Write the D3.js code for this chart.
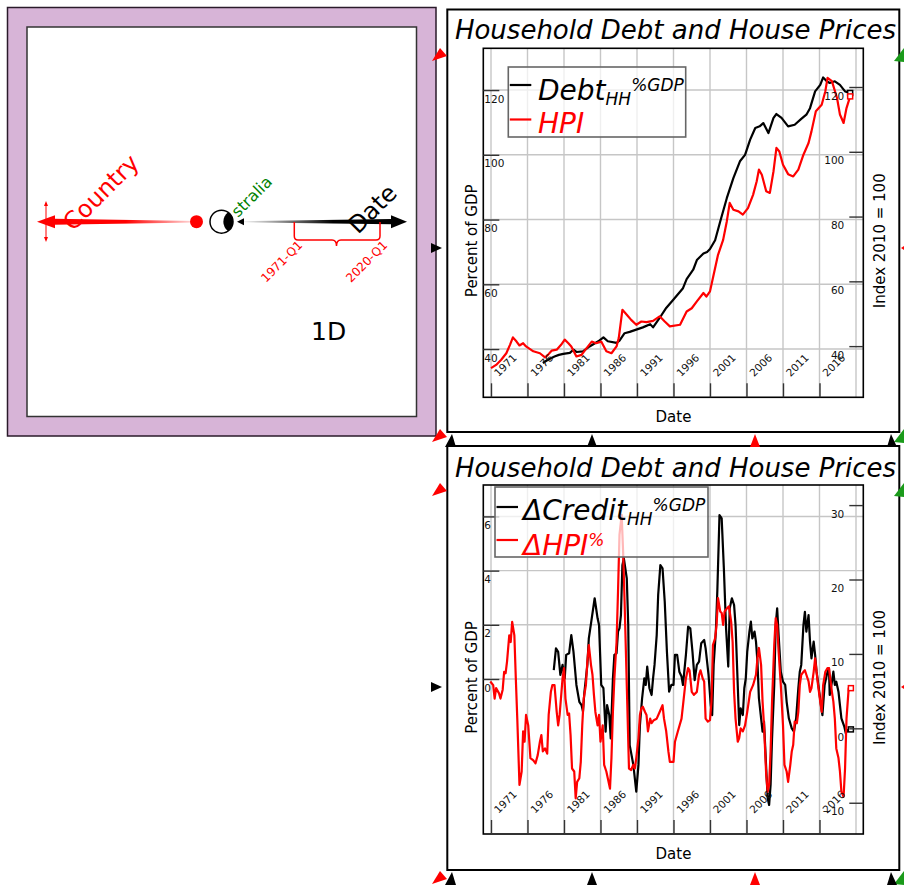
<!DOCTYPE html>
<html><head><meta charset="utf-8">
<script src="https://cdn.jsdelivr.net/npm/d3@7"></script>
<style>
body{margin:0;background:#fff}
svg text{font-family:"DejaVu Sans",Verdana,sans-serif}
</style>
</head><body>
<svg id="c" width="904" height="885"></svg>
<script>
// ---------------- DATA ----------------
const xTicks = [1971,1976,1981,1986,1991,1996,2001,2006,2011,2016];
const xGridExtra = [2021];
const topLeftTicks = [40,60,80,100,120];
const topRightTicks = [40,60,80,100,120];
const botLeftTicks = [0,2,4,6];
const botRightTicks = [-10,0,10,20,30];

const chartTitle = "Household Debt and House Prices";

// Household debt, % of GDP  [year, value]
const debtHH = [[1978.1,35.7],[1978.8,36.7],[1979.7,37.7],[1980.3,38.2],[1980.9,38.5],[1981.8,38.8],[1982.3,39.8],[1982.7,39.1],[1983.6,39.3],[1984.5,40.8],[1985.7,42.4],[1986.4,43.6],[1987.0,42.4],[1988.2,41.9],[1988.6,42.6],[1989.3,44.9],[1990.0,45.3],[1990.9,46.0],[1991.8,46.7],[1992.8,47.7],[1993.2,46.7],[1994.1,49.6],[1995.0,52.7],[1996.0,55.3],[1997.3,58.8],[1997.8,61.6],[1998.7,64.5],[1999.2,67.5],[2000.1,69.5],[2000.6,70.0],[2001.0,70.9],[2001.7,73.6],[2002.4,79.4],[2003.3,86.6],[2004.2,92.8],[2005.1,98.0],[2005.8,100.0],[2006.5,104.7],[2007.2,108.3],[2007.8,108.8],[2008.3,109.8],[2009.0,106.7],[2009.7,111.4],[2010.1,112.6],[2010.8,111.4],[2011.7,108.8],[2012.6,109.3],[2013.5,111.1],[2014.2,112.4],[2014.7,114.4],[2015.4,119.6],[2016.1,121.6],[2016.5,123.9],[2017.0,122.7],[2017.4,122.2],[2018.1,122.7],[2018.8,121.6],[2019.5,119.6],[2020.2,119.1]];

// House price index, 2010 = 100
const hpi = [[1971.0,33.2],[1971.7,34.2],[1972.4,35.8],[1973.1,37.8],[1973.6,40.4],[1974.0,42.7],[1974.5,41.4],[1974.9,40.2],[1975.4,40.9],[1975.8,39.9],[1976.8,38.4],[1977.7,37.8],[1978.4,36.5],[1978.8,37.3],[1979.3,38.6],[1980.0,38.9],[1980.6,40.4],[1981.1,42.0],[1981.6,40.9],[1982.0,39.9],[1982.7,36.8],[1983.4,37.3],[1984.1,39.4],[1984.8,41.4],[1985.4,40.9],[1986.1,41.4],[1986.8,38.4],[1987.5,37.8],[1988.2,39.9],[1988.5,42.5],[1989.0,51.2],[1989.6,49.7],[1990.2,48.1],[1990.9,46.6],[1991.6,47.6],[1992.3,47.4],[1993.2,47.8],[1994.1,49.2],[1994.8,47.6],[1995.5,46.1],[1996.9,46.6],[1997.8,50.7],[1998.5,51.7],[1999.2,53.8],[2000.1,56.4],[2000.5,55.3],[2001.0,56.9],[2001.4,61.0],[2002.1,68.2],[2002.8,72.8],[2003.3,78.5],[2003.7,84.2],[2004.2,82.1],[2004.9,81.6],[2005.5,80.6],[2006.2,82.6],[2006.9,86.7],[2007.4,90.9],[2007.7,94.5],[2008.1,92.9],[2008.7,87.8],[2009.2,87.3],[2009.7,94.0],[2010.1,101.2],[2010.5,100.1],[2011.0,96.0],[2011.7,93.1],[2012.4,92.4],[2013.1,94.5],[2013.8,99.1],[2014.5,102.7],[2014.9,106.3],[2015.5,112.5],[2016.3,114.5],[2016.8,118.7],[2017.1,122.8],[2017.7,121.8],[2018.4,116.6],[2018.8,111.5],[2019.3,108.9],[2019.7,113.5],[2020.2,117.1]];

// Change in household credit, % of GDP
const dCredit = [[1979.6,0.33],[1979.9,1.13],[1980.2,1.0],[1980.5,0.15],[1980.8,0.52],[1981.1,0.02],[1981.3,0.89],[1981.7,0.95],[1982.0,1.62],[1982.3,1.0],[1982.7,-0.22],[1983.1,-0.84],[1983.4,-0.96],[1983.6,-1.2],[1983.8,-0.47],[1984.2,0.52],[1984.4,1.5],[1984.8,2.24],[1985.2,2.98],[1985.6,2.24],[1985.8,1.99],[1986.1,-0.22],[1986.4,-0.34],[1986.7,-1.94],[1986.9,-0.96],[1987.2,-1.33],[1987.4,-2.19],[1987.7,0.02],[1987.9,0.89],[1988.2,0.95],[1988.4,1.75],[1988.6,1.87],[1988.8,2.36],[1989.0,4.2],[1989.2,4.45],[1989.6,3.71],[1989.8,1.99],[1990.0,-2.44],[1990.5,-3.17],[1990.9,-4.16],[1991.2,-3.17],[1991.4,-1.7],[1991.7,-0.71],[1992.0,0.02],[1992.2,-0.22],[1992.4,0.46],[1992.7,-0.34],[1993.0,-0.59],[1993.2,0.02],[1993.4,0.52],[1993.7,1.62],[1993.9,3.1],[1994.2,4.2],[1994.5,4.08],[1994.8,2.85],[1995.1,1.0],[1995.4,-0.47],[1995.7,-0.22],[1996.0,-0.22],[1996.2,0.89],[1996.5,0.89],[1996.8,0.27],[1997.1,0.09],[1997.3,-0.22],[1997.7,0.89],[1998.0,1.93],[1998.3,1.87],[1998.6,1.0],[1998.9,-0.04],[1999.2,0.52],[1999.5,0.64],[1999.8,1.32],[2000.2,1.44],[2000.4,1.13],[2000.8,0.15],[2001.1,-0.96],[2001.3,-1.33],[2001.5,0.52],[2001.8,1.75],[2002.0,3.22],[2002.3,6.05],[2002.6,5.93],[2002.9,4.08],[2003.2,1.87],[2003.5,0.46],[2003.7,2.61],[2004.0,2.98],[2004.3,2.73],[2004.5,1.99],[2004.8,-0.22],[2005.0,-1.7],[2005.2,-1.08],[2005.5,-1.33],[2005.7,-0.34],[2005.9,0.02],[2006.1,1.0],[2006.4,1.75],[2006.6,2.12],[2006.8,1.5],[2007.1,1.75],[2007.3,1.38],[2007.5,0.64],[2007.7,-0.71],[2008.0,-1.45],[2008.2,-1.94],[2008.4,-1.57],[2008.7,-3.3],[2008.9,-4.4],[2009.1,-4.65],[2009.3,-3.91],[2009.5,-2.19],[2009.8,-0.22],[2010.0,1.99],[2010.2,2.61],[2010.4,1.62],[2010.7,0.27],[2011.0,-0.1],[2011.3,-0.22],[2011.5,-0.84],[2011.8,-1.45],[2012.2,-1.82],[2012.5,-1.94],[2012.8,-1.45],[2013.1,-0.34],[2013.3,0.27],[2013.5,0.52],[2013.8,1.99],[2014.0,2.48],[2014.2,1.75],[2014.5,2.36],[2014.7,1.38],[2014.9,0.76],[2015.2,1.38],[2015.4,0.89],[2015.6,0.27],[2015.9,-0.34],[2016.2,-0.96],[2016.4,-1.33],[2016.7,-0.22],[2017.1,0.27],[2017.3,0.39],[2017.4,-0.59],[2017.7,-0.1],[2017.9,0.27],[2018.1,-0.22],[2018.3,-0.1],[2018.6,-0.47],[2018.8,-0.96],[2019.0,-1.45],[2019.4,-1.76],[2019.6,-2.0],[2019.9,-1.88],[2020.3,-1.86]];

// Change in house price index, %
const dHPI = [[1970.9,6.3],[1971.3,5.8],[1971.5,4.0],[1971.7,5.4],[1972.1,4.7],[1972.3,4.0],[1972.6,5.2],[1972.8,7.6],[1973.0,7.4],[1973.2,9.0],[1973.5,12.5],[1973.7,11.6],[1973.9,14.3],[1974.2,12.5],[1974.4,6.7],[1974.6,1.3],[1974.9,-7.6],[1975.2,-5.8],[1975.4,-0.4],[1975.6,-1.8],[1975.8,1.8],[1976.1,0.4],[1976.4,-4.0],[1976.8,-4.3],[1977.1,-4.7],[1977.4,-3.6],[1977.7,-1.8],[1977.9,-0.9],[1978.1,-3.1],[1978.4,-2.7],[1978.7,-3.4],[1978.9,1.8],[1979.2,4.9],[1979.4,5.8],[1979.7,5.8],[1980.0,2.2],[1980.2,0.4],[1980.4,1.8],[1980.8,6.7],[1981.0,8.1],[1981.2,4.0],[1981.5,1.8],[1981.7,2.0],[1981.9,-0.9],[1982.1,-5.4],[1982.4,-5.8],[1982.6,-9.4],[1982.8,-7.2],[1983.1,-6.7],[1983.3,-4.5],[1983.5,0.4],[1983.7,4.0],[1984.0,5.8],[1984.2,9.0],[1984.4,11.2],[1984.7,8.5],[1984.9,7.2],[1985.1,4.5],[1985.3,2.2],[1985.6,0.4],[1985.8,1.8],[1986.0,-1.8],[1986.3,0.4],[1986.5,-4.9],[1986.8,-5.8],[1987.0,-6.7],[1987.3,-8.1],[1987.5,-4.0],[1987.7,2.2],[1987.9,6.7],[1988.2,11.6],[1988.4,18.4],[1988.6,26.0],[1988.9,28.7],[1989.1,23.7],[1989.3,17.0],[1989.6,5.8],[1989.9,-5.4],[1990.2,-5.6],[1990.5,-4.9],[1990.7,-5.4],[1990.9,-4.0],[1991.2,-1.3],[1991.4,1.8],[1991.6,2.7],[1991.8,2.9],[1992.1,2.2],[1992.3,1.8],[1992.5,-0.4],[1992.8,1.3],[1993.0,0.7],[1993.3,1.1],[1993.7,1.3],[1994.1,2.2],[1994.5,3.1],[1994.7,1.3],[1995.0,-0.4],[1995.3,-3.1],[1995.5,-4.5],[1996.0,-4.5],[1996.2,-1.8],[1996.6,-0.4],[1997.1,1.3],[1997.3,3.1],[1997.7,6.7],[1998.0,8.1],[1998.2,7.8],[1998.5,4.9],[1998.8,4.5],[1999.2,4.9],[1999.5,7.2],[1999.7,7.8],[2000.0,6.7],[2000.2,6.3],[2000.4,1.3],[2000.7,0.9],[2001.0,1.1],[2001.2,3.6],[2001.4,11.2],[2001.7,12.1],[2001.9,13.9],[2002.1,17.5],[2002.4,15.7],[2002.6,15.5],[2002.8,13.9],[2003.0,15.7],[2003.3,16.1],[2003.6,16.4],[2003.9,14.3],[2004.1,11.6],[2004.3,4.9],[2004.5,1.3],[2004.8,-1.8],[2005.0,-1.3],[2005.2,0.0],[2005.5,-0.4],[2005.8,0.4],[2006.1,2.2],[2006.5,4.9],[2006.9,5.8],[2007.3,7.2],[2007.5,9.4],[2007.7,10.8],[2008.0,8.5],[2008.2,3.6],[2008.4,0.4],[2008.7,-6.3],[2008.9,-8.5],[2009.1,-7.6],[2009.3,-3.1],[2009.5,3.6],[2009.8,11.2],[2010.0,14.8],[2010.2,13.9],[2010.4,10.3],[2010.7,5.8],[2011.0,0.4],[2011.2,-4.9],[2011.5,-5.8],[2011.7,-7.2],[2012.0,-4.9],[2012.2,-3.1],[2012.4,-2.2],[2012.6,0.9],[2012.9,0.7],[2013.1,2.2],[2013.3,5.8],[2013.5,7.2],[2013.8,7.6],[2014.0,7.8],[2014.2,7.2],[2014.5,6.3],[2014.7,4.9],[2014.9,5.4],[2015.2,7.6],[2015.4,9.4],[2015.6,7.6],[2015.8,5.8],[2016.1,3.6],[2016.3,2.2],[2016.5,5.8],[2016.8,7.6],[2017.1,8.1],[2017.3,8.1],[2017.7,4.9],[2017.9,3.6],[2018.1,1.3],[2018.3,-2.7],[2018.6,-4.0],[2018.8,-5.8],[2019.0,-8.5],[2019.3,-9.2],[2019.5,-5.4],[2019.7,1.3],[2020.0,5.4],[2020.3,5.4]];

// ---------------- DRAW ----------------
const svg = d3.select("#c");
const defs = svg.append("defs");

// ---- left (purple) panel ----
const lp = svg.append("g");
lp.append("rect").attr("x",7.5).attr("y",7.5).attr("width",428.5).attr("height",428.5)
  .attr("fill","#d7b4d7").attr("stroke","#2a1a2a").attr("stroke-width",1.5);
lp.append("rect").attr("x",27).attr("y",27).attr("width",389.5).attr("height",389.5)
  .attr("fill","#fff").attr("stroke","#333").attr("stroke-width",1.5);

const rg = defs.append("linearGradient").attr("id","rg").attr("gradientUnits","userSpaceOnUse")
  .attr("x1",196).attr("y1",0).attr("x2",40).attr("y2",0);
rg.append("stop").attr("offset","0").attr("stop-color","#ff0000").attr("stop-opacity",0.12);
rg.append("stop").attr("offset","0.45").attr("stop-color","#ff0000").attr("stop-opacity",1);
rg.append("stop").attr("offset","1").attr("stop-color","#ff0000").attr("stop-opacity",1);
const bg = defs.append("linearGradient").attr("id","bg").attr("gradientUnits","userSpaceOnUse")
  .attr("x1",244).attr("y1",0).attr("x2",392).attr("y2",0);
bg.append("stop").attr("offset","0").attr("stop-color","#000").attr("stop-opacity",0.05);
bg.append("stop").attr("offset","0.6").attr("stop-color","#000").attr("stop-opacity",1);
bg.append("stop").attr("offset","1").attr("stop-color","#000").attr("stop-opacity",1);

const cy = 221.7;
lp.append("path").attr("d",`M196,${cy-0.8} L54,${cy-3} L54,${cy+3} L196,${cy+0.8} Z`).attr("fill","url(#rg)");
lp.append("path").attr("d",`M37,${cy} L55,${cy-6.5} L55,${cy+6.5} Z`).attr("fill","#ff0000");
// small vertical double arrow
lp.append("line").attr("x1",46).attr("x2",46).attr("y1",203).attr("y2",240).attr("stroke","#ff0000").attr("stroke-width",1);
lp.append("path").attr("d","M44,206 L46,201 L48,206 Z M44,237 L46,242 L48,237 Z").attr("fill","#ff0000");
lp.append("text").text("Country").attr("transform",`translate(73,232) rotate(-45)`)
  .attr("font-size",24).attr("fill","#ff0000");
lp.append("circle").attr("cx",196.5).attr("cy",cy).attr("r",6.5).attr("fill","#ff0000");
lp.append("path").attr("d",`M244,${cy-0.6} L392,${cy-2.6} L392,${cy+2.6} L244,${cy+0.6} Z`).attr("fill","url(#bg)");
lp.append("path").attr("d",`M391,${cy-6.5} L407,${cy} L391,${cy+6.5} Z`).attr("fill","#000");
lp.append("text").text("stralia").attr("transform",`translate(238,218) rotate(-45)`)
  .attr("font-size",16).attr("fill","#008000");
lp.append("circle").attr("cx",221.5).attr("cy",cy).attr("r",11.5).attr("fill","#fff").attr("stroke","#000").attr("stroke-width",1.5);
lp.append("path").attr("d",`M228,212.2 A11.5,11.5 0 0 1 228,231.2 A12,12 0 0 1 228,212.2 Z`).attr("fill","#000");
lp.append("path").attr("d",`M237,${cy} L244,${cy-3.5} L244,${cy+3.5} Z`).attr("fill","#000");
lp.append("text").text("Date").attr("transform",`translate(358,235) rotate(-45)`)
  .attr("font-size",24).attr("fill","#000");
// brace
lp.append("path").attr("d","M294.3,222 L294.3,236 Q294.3,240 298,240 L332,240 Q336.5,240 336.5,246 Q336.5,240 341,240 L376,240 Q380,240 380,236 L380,222")
  .attr("fill","none").attr("stroke","#ff0000").attr("stroke-width",1.5);
lp.append("text").text("1971-Q1").attr("transform",`translate(266,283) rotate(-45)`).attr("font-size",12).attr("fill","#ff0000");
lp.append("text").text("2020-Q1").attr("transform",`translate(351,283) rotate(-45)`).attr("font-size",12).attr("fill","#ff0000");
lp.append("text").text("1D").attr("x",311).attr("y",340).attr("font-size",25).attr("fill","#000");

// ---- chart panels ----
const x = d3.scaleLinear().domain([1970,2022]).range([483.7,863.3]);
const PL = 483.3, PR = 863.3;

function chart(cfg){
  const g = svg.append("g");
  g.append("rect").attr("x",447.3).attr("y",cfg.panelY).attr("width",452).attr("height",cfg.panelH)
    .attr("fill","#fff").attr("stroke","#000").attr("stroke-width",2);
  g.append("text").text(chartTitle).attr("x",675.5).attr("y",cfg.titleY)
    .attr("text-anchor","middle").attr("font-size",26).attr("font-style","italic");
  const yL = d3.scaleLinear().domain(cfg.lDom).range([cfg.pb,cfg.pt]);
  const yR = d3.scaleLinear().domain(cfg.rDom).range([cfg.pb,cfg.pt]);
  // grid
  const grid = g.append("g").attr("stroke","#c6c6c6").attr("stroke-width",1.4);
  grid.selectAll(".v").data(xTicks.concat(xGridExtra)).join("line")
    .attr("x1",d=>x(d)).attr("x2",d=>x(d)).attr("y1",cfg.pt).attr("y2",cfg.pb);
  grid.selectAll(".h").data(cfg.lTicks).join("line")
    .attr("x1",PL).attr("x2",PR).attr("y1",d=>yL(d)).attr("y2",d=>yL(d));
  // lines
  const lineL = d3.line().x(d=>x(d[0])).y(d=>yL(d[1]));
  const lineR = d3.line().x(d=>x(d[0])).y(d=>yR(d[1]));
  g.append("path").datum(cfg.black).attr("d",lineL).attr("fill","none").attr("stroke","#000").attr("stroke-width",2.2).attr("stroke-linejoin","round");
  g.append("path").datum(cfg.red).attr("d",lineR).attr("fill","none").attr("stroke","#ff0000").attr("stroke-width",2.2).attr("stroke-linejoin","round");
  const lb = cfg.black[cfg.black.length-1], lr = cfg.red[cfg.red.length-1];
  g.append("rect").attr("x",x(lb[0])-2.5).attr("y",yL(lb[1])-2.5).attr("width",5).attr("height",5)
    .attr("fill","#fff").attr("stroke","#000").attr("stroke-width",1.5);
  g.append("rect").attr("x",x(lr[0])-2.5).attr("y",yR(lr[1])-2.5).attr("width",5).attr("height",5)
    .attr("fill","#fff").attr("stroke","#ff0000").attr("stroke-width",1.5);
  // frame
  g.append("rect").attr("x",PL).attr("y",cfg.pt).attr("width",PR-PL).attr("height",cfg.pb-cfg.pt)
    .attr("fill","none").attr("stroke","#000").attr("stroke-width",1.6);
  // axes
  const ax = g.append("g").attr("transform",`translate(${PL},0)`)
    .call(d3.axisRight(yL).tickValues(cfg.lTicks).tickSize(16).tickFormat(d3.format("d")));
  const ay = g.append("g").attr("transform",`translate(${PR},0)`)
    .call(d3.axisLeft(yR).tickValues(cfg.rTicks).tickSize(14).tickFormat(d3.format("d")));
  const axx = g.append("g").attr("transform",`translate(0,${cfg.pb})`)
    .call(d3.axisTop(x).tickValues(xTicks).tickSize(14).tickFormat(d3.format("d")));
  [ax,ay,axx].forEach(a=>{
    a.select(".domain").remove();
    a.attr("font-family",null).attr("font-size",10.5);
    a.selectAll(".tick line").attr("stroke","#333").attr("stroke-width",1.4);
    a.selectAll(".tick text").attr("fill","#111").attr("dy",null);
  });
  ax.selectAll(".tick text").attr("x",1).attr("y",12).attr("text-anchor","start");
  ay.selectAll(".tick text").attr("x",-19).attr("y",12).attr("text-anchor","end");
  axx.selectAll(".tick text").attr("x",0).attr("y",0).attr("text-anchor","start")
    .attr("transform","translate(7,-20) rotate(-45)");
  // axis titles
  const mid = (cfg.pt+cfg.pb)/2 + 18;
  g.append("text").text("Percent of GDP").attr("transform",`translate(476.5,${mid}) rotate(-90)`)
    .attr("text-anchor","middle").attr("font-size",15);
  g.append("text").text("Index 2010 = 100").attr("transform",`translate(885,${mid}) rotate(-90)`)
    .attr("text-anchor","middle").attr("font-size",15);
  g.append("text").text("Date").attr("x",673.5).attr("y",cfg.pb+24.5)
    .attr("text-anchor","middle").attr("font-size",15);
  // legend
  const L = cfg.leg;
  g.append("rect").attr("x",L.x).attr("y",L.y).attr("width",L.w).attr("height",L.h)
    .attr("fill","#fff").attr("fill-opacity",0.72).attr("stroke","#666").attr("stroke-width",1.6);
  g.append("line").attr("x1",L.x+1.5).attr("x2",L.x+23).attr("y1",L.y1).attr("y2",L.y1).attr("stroke","#000").attr("stroke-width",2.2);
  g.append("line").attr("x1",L.x+1.5).attr("x2",L.x+23).attr("y1",L.y2).attr("y2",L.y2).attr("stroke","#ff0000").attr("stroke-width",2.2);
  const t1 = g.append("text").attr("x",L.tx).attr("y",L.b1).attr("font-style","italic").attr("font-size",28).attr("fill","#000");
  t1.append("tspan").text(L.n1);
  t1.append("tspan").text("HH").attr("font-size",17).attr("dy",5);
  t1.append("tspan").text("%GDP").attr("font-size",17).attr("dy",-14);
  const t2 = g.append("text").attr("x",L.tx).attr("y",L.b2).attr("font-style","italic").attr("font-size",28).attr("fill","#ff0000");
  t2.append("tspan").text(L.n2);
  if (L.sup2) t2.append("tspan").text(L.sup2).attr("font-size",17).attr("dy",-9);
}

chart({panelY:9.5,panelH:422.5,titleY:39,pt:48.3,pb:397.3,
  lDom:[25.1,132.9],rDom:[24.2,131.95],lTicks:topLeftTicks,rTicks:topRightTicks,
  black:debtHH,red:hpi,
  leg:{x:508.3,y:67,w:177.4,h:70,y1:85,y2:119.5,tx:538,b1:100,b2:133,n1:"Debt",n2:"HPI",sup2:null}});
chart({panelY:446,panelH:424,titleY:477,pt:485,pb:834,
  lDom:[-5.72,7.16],rDom:[-14.2,32.7],lTicks:botLeftTicks,rTicks:botRightTicks,
  black:dCredit,red:dHPI,
  leg:{x:495,y:487,w:213,h:70,y1:507,y2:540,tx:523,b1:520,b2:555,n1:"\u0394Credit",n2:"\u0394HPI",sup2:"%"}});

// ---- decorations (connectors between panels) ----
const deco = svg.append("g");
function tri(pts,fill){ deco.append("path").attr("d","M"+pts.map(p=>p.join(",")).join(" L")+" Z").attr("fill",fill); }
[55,436,490,878].forEach(yy=>{
  tri([[432,yy+6],[440,yy-7],[447,yy+1]],"#ff0000");
  tri([[894,yy+6],[904,yy-7],[904,yy+7]],"#1a9a1a");
});
[248,687].forEach(yy=>{
  tri([[431,yy-5],[442,yy],[431,yy+5]],"#000");
  tri([[901,yy],[904,yy-2],[904,yy+2]],"#ff0000");
});
[440,878].forEach(yy=>{
  tri([[445,yy+7],[452,yy-6],[456,yy+7]],"#000");
  tri([[887,yy+7],[891,yy-6],[897,yy+7]],"#000");
  tri([[587,yy+7],[592,yy-6],[597,yy+7]],"#000");
  tri([[750,yy+7],[755,yy-6],[760,yy+7]],"#ff0000");
});
</script>
</body></html>
